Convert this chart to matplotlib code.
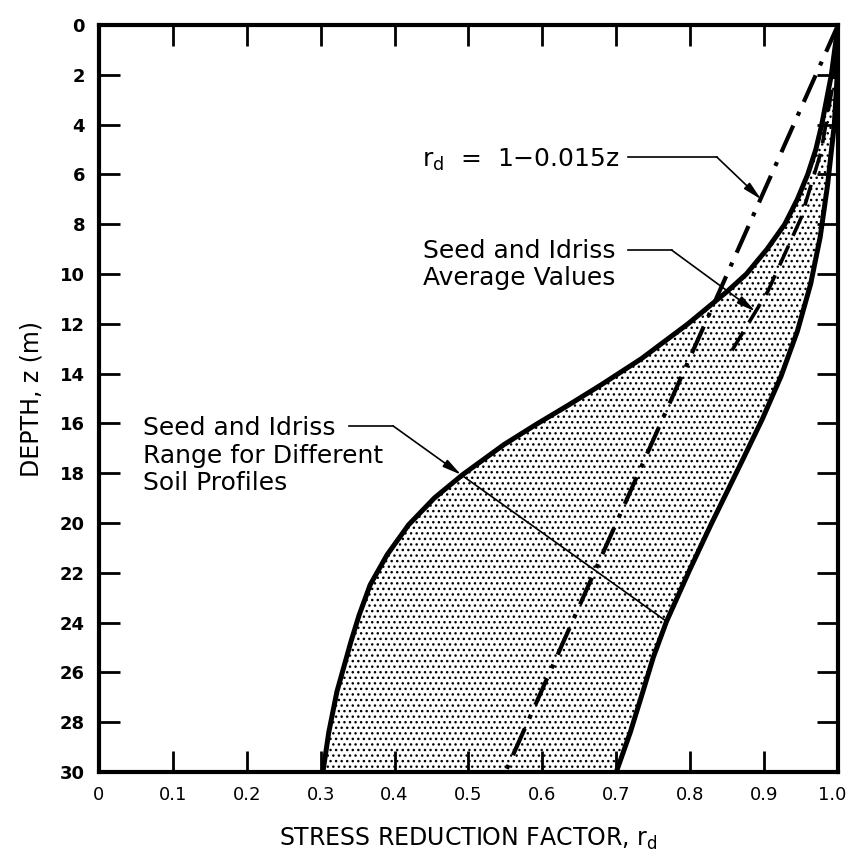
import matplotlib.pyplot as plt
import matplotlib.transforms as mtransforms

plt.rcParams['font.family'] = ['DejaVu Sans']
plt.rcParams['hatch.linewidth'] = 1.0
plt.rcParams['hatch.color'] = 'black'

## data
# lower bound of the Seed and Idriss range (depth z in m, rd)
z_low  = [0, 2, 4, 5, 6, 7, 8, 9, 10, 10.7, 12, 13.4, 14.44, 15.25, 16.05, 16.85, 18.06, 18.99, 20.07,
          21.27, 22.48, 23.7, 24.76, 26.77, 28.4, 30]
rd_low = [1.0, 0.991, 0.978, 0.970, 0.959, 0.945, 0.928, 0.904, 0.876, 0.850, 0.797, 0.734, 0.680, 0.636,
          0.591, 0.548, 0.492, 0.454, 0.419, 0.390, 0.367, 0.352, 0.341, 0.322, 0.311, 0.303]

# upper bound of the range
z_up  = [0, 2, 4, 6.4, 8.5, 10.4, 12.3, 14.1, 15.8, 17.4, 20.07, 21.9, 23.95, 25.4, 26.77, 28.4, 30]
rd_up = [1.0, 0.999, 0.995, 0.986, 0.976, 0.963, 0.945, 0.923, 0.898, 0.872, 0.828, 0.799, 0.768,
         0.750, 0.736, 0.719, 0.700]

# Seed and Idriss average values
z_avg  = [0, 2.4, 5.1, 7.75, 10.7, 12.85, 13.1]
rd_avg = [1.0, 0.993, 0.977, 0.950, 0.905, 0.861, 0.856]

# rd = 1 - 0.015z
z_lin  = [0, 30]
rd_lin = [1 - 0.015 * z for z in z_lin]

x_ticks  = [0, 0.1, 0.2, 0.3, 0.4, 0.5, 0.6, 0.7, 0.8, 0.9, 1.0]
x_labels = ['0', '0.1', '0.2', '0.3', '0.4', '0.5', '0.6', '0.7', '0.8', '0.9', '1.0']
y_ticks  = list(range(0, 31, 2))

## figure
fig = plt.figure(figsize=(8.48, 8.58), dpi=100)
ax = fig.add_axes([0.1167, 0.1002, 0.8715, 0.8706])

# shaded range
poly_x = rd_low + rd_up[::-1]
poly_y = z_low + z_up[::-1]
ax.fill(poly_x, poly_y, facecolor='white', edgecolor='black', lw=0, hatch='...', zorder=1)
ax.plot(rd_low, z_low, color='black', lw=3.6, solid_capstyle='butt', solid_joinstyle='round', zorder=3)
ax.plot(rd_up, z_up, color='black', lw=3.6, solid_capstyle='butt', solid_joinstyle='round', zorder=3)

# average curve (dashed) and linear rd (dash-dot)
ln_avg, = ax.plot(rd_avg, z_avg, color='black', lw=2.6, zorder=3)
ln_avg.set_dashes((6, 3))
ln_lin, = ax.plot(rd_lin, z_lin, color='black', lw=3.0, zorder=3)
ln_lin.set_dashes((7, 2.6, 1, 2.6))

ax.set_xlim(0, 1.0)
ax.set_ylim(30, 0)

for s in ax.spines.values():
    s.set_linewidth(3)

ax.set_xticks(x_ticks)
ax.set_xticklabels(x_labels)
ax.set_yticks(y_ticks)
ax.tick_params(direction='in', length=15, width=2, top=True, right=True,
               labeltop=False, labelright=False, labelsize=13)
ax.tick_params(axis='x', pad=10)
ax.tick_params(axis='y', pad=10)
for t in ax.get_yticklabels():
    t.set_fontweight('bold')
# keep "1.0" inside the figure
last = ax.get_xticklabels()[-1]
last.set_transform(last.get_transform() + mtransforms.ScaledTranslation(-6 / 100, 0, fig.dpi_scale_trans))

ax.set_xlabel('STRESS REDUCTION FACTOR, r$_\\mathregular{d}$', fontsize=17, labelpad=16)
ax.set_ylabel('DEPTH, z (m)', fontsize=17, labelpad=12)

## labels with leaders
arrow_kw = dict(arrowstyle='-|>,head_length=0.8,head_width=0.18', color='black',
                lw=1.2, shrinkA=0, shrinkB=0, mutation_scale=14)
txt_kw = dict(fontsize=18, va='center_baseline')

# rd = 1 - 0.015z
ax.text(0.705, 5.3, 'r$_\\mathregular{d}$  =  1\u22120.015z', ha='right', **txt_kw)
ax.plot([0.716, 0.836], [5.3, 5.3], color='black', lw=1.2)
ax.annotate('', xy=(0.896, 7.0), xytext=(0.836, 5.3), arrowprops=arrow_kw)

# average values
ax.text(0.438, 8.96, 'Seed and Idriss', ha='left', **txt_kw)
ax.text(0.438, 10.04, 'Average Values', ha='left', **txt_kw)
ax.plot([0.716, 0.775], [9.04, 9.04], color='black', lw=1.2)
ax.annotate('', xy=(0.888, 11.5), xytext=(0.775, 9.04), arrowprops=arrow_kw)

# range for different soil profiles
ax.text(0.06, 16.1, 'Seed and Idriss', ha='left', **txt_kw)
ax.text(0.06, 17.2, 'Range for Different', ha='left', **txt_kw)
ax.text(0.06, 18.3, 'Soil Profiles', ha='left', **txt_kw)
ax.plot([0.338, 0.398], [16.1, 16.1], color='black', lw=1.2)
ax.annotate('', xy=(0.490, 18.06), xytext=(0.398, 16.1), arrowprops=arrow_kw)
ax.plot([0.490, 0.768], [18.06, 23.95], color='black', lw=1.2)

fig.savefig('out.png', dpi=100)
